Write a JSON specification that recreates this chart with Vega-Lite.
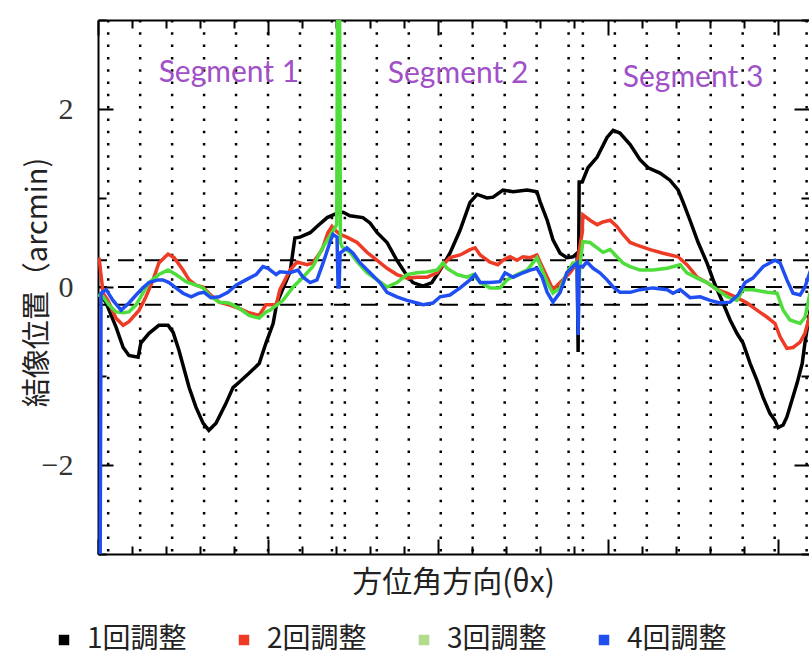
{
  "$schema": "https://vega.github.io/schema/vega-lite/v6.json",
  "width": 711,
  "height": 534,
  "autosize": {"type": "none"},
  "padding": {"left": 98, "top": 20, "right": 0, "bottom": 110},
  "background": "white",
  "datasets": {
    "vlines": [{"x":0.3},{"x":1.24},{"x":2.18},{"x":3.12},{"x":4.06},{"x":5.0},{"x":5.94},{"x":6.88},{"x":7.26},{"x":8.2},{"x":9.14},{"x":10.08},{"x":11.02},{"x":11.96},{"x":12.9},{"x":13.84},{"x":14.26},{"x":15.2},{"x":16.14},{"x":17.08},{"x":18.02},{"x":18.96},{"x":19.9},{"x":20.84}],
    "hlines": [{"y":0.3},{"y":0},{"y":-0.2}],
    "segments": [{"x":3.85,"y":2.41,"label":"Segment 1"},{"x":10.59,"y":2.39,"label":"Segment 2"},{"x":17.5,"y":2.35,"label":"Segment 3"}],
    "series": [
      {"s":"1回調整","x":0.06,"y":-0.07},{"s":"1回調整","x":0.24,"y":-0.18},{"s":"1回調整","x":0.53,"y":-0.45},{"s":"1回調整","x":0.74,"y":-0.68},{"s":"1回調整","x":0.91,"y":-0.77},{"s":"1回調整","x":1.18,"y":-0.79},{"s":"1回調整","x":1.26,"y":-0.63},{"s":"1回調整","x":1.5,"y":-0.52},{"s":"1回調整","x":1.79,"y":-0.43},{"s":"1回調整","x":2.06,"y":-0.43},{"s":"1回調整","x":2.21,"y":-0.51},{"s":"1回調整","x":2.38,"y":-0.71},{"s":"1回調整","x":2.68,"y":-1.13},{"s":"1回調整","x":2.88,"y":-1.35},{"s":"1回調整","x":3.09,"y":-1.53},{"s":"1回調整","x":3.26,"y":-1.61},{"s":"1回調整","x":3.47,"y":-1.53},{"s":"1回調整","x":3.76,"y":-1.31},{"s":"1回調整","x":3.97,"y":-1.13},{"s":"1回調整","x":4.15,"y":-1.07},{"s":"1回調整","x":4.44,"y":-0.97},{"s":"1回調整","x":4.74,"y":-0.86},{"s":"1回調整","x":4.94,"y":-0.63},{"s":"1回調整","x":5.15,"y":-0.41},{"s":"1回調整","x":5.26,"y":-0.18},{"s":"1回調整","x":5.65,"y":0.17},{"s":"1回調整","x":5.79,"y":0.55},{"s":"1回調整","x":5.94,"y":0.56},{"s":"1回調整","x":6.24,"y":0.61},{"s":"1回調整","x":6.44,"y":0.68},{"s":"1回調整","x":6.74,"y":0.78},{"s":"1回調整","x":7.03,"y":0.83},{"s":"1回調整","x":7.21,"y":0.84},{"s":"1回調整","x":7.41,"y":0.8},{"s":"1回調整","x":7.79,"y":0.78},{"s":"1回調整","x":8.0,"y":0.72},{"s":"1回調整","x":8.21,"y":0.61},{"s":"1回調整","x":8.5,"y":0.5},{"s":"1回調整","x":8.79,"y":0.3},{"s":"1回調整","x":9.03,"y":0.16},{"s":"1回調整","x":9.26,"y":0.05},{"s":"1回調整","x":9.56,"y":0.01},{"s":"1回調整","x":9.82,"y":0.05},{"s":"1回調整","x":10.06,"y":0.19},{"s":"1回調整","x":10.35,"y":0.38},{"s":"1回調整","x":10.65,"y":0.64},{"s":"1回調整","x":10.94,"y":0.95},{"s":"1回調整","x":11.15,"y":1.04},{"s":"1回調整","x":11.44,"y":1.0},{"s":"1回調整","x":11.62,"y":1.01},{"s":"1回調整","x":11.91,"y":1.09},{"s":"1回調整","x":12.21,"y":1.07},{"s":"1回調整","x":12.62,"y":1.09},{"s":"1回調整","x":12.91,"y":1.07},{"s":"1回調整","x":13.0,"y":0.96},{"s":"1回調整","x":13.21,"y":0.75},{"s":"1回調整","x":13.38,"y":0.53},{"s":"1回調整","x":13.59,"y":0.38},{"s":"1回調整","x":13.79,"y":0.33},{"s":"1回調整","x":13.97,"y":0.34},{"s":"1回調整","x":14.09,"y":0.38},{"s":"1回調整","x":14.12,"y":-0.73},{"s":"1回調整","x":14.15,"y":1.18},{"s":"1回調整","x":14.24,"y":1.18},{"s":"1回調整","x":14.41,"y":1.34},{"s":"1回調整","x":14.68,"y":1.46},{"s":"1回調整","x":14.97,"y":1.68},{"s":"1回調整","x":15.15,"y":1.76},{"s":"1回調整","x":15.35,"y":1.73},{"s":"1回調整","x":15.65,"y":1.6},{"s":"1回調整","x":15.94,"y":1.43},{"s":"1回調整","x":16.18,"y":1.34},{"s":"1回調整","x":16.53,"y":1.28},{"s":"1回調整","x":16.82,"y":1.2},{"s":"1回調整","x":17.06,"y":1.09},{"s":"1回調整","x":17.21,"y":0.95},{"s":"1回調整","x":17.41,"y":0.75},{"s":"1回調整","x":17.65,"y":0.5},{"s":"1回調整","x":17.91,"y":0.27},{"s":"1回調整","x":18.12,"y":0.05},{"s":"1回調整","x":18.38,"y":-0.18},{"s":"1回調整","x":18.59,"y":-0.37},{"s":"1回調整","x":18.79,"y":-0.52},{"s":"1回調整","x":18.97,"y":-0.63},{"s":"1回調整","x":19.18,"y":-0.86},{"s":"1回調整","x":19.38,"y":-1.05},{"s":"1回調整","x":19.56,"y":-1.24},{"s":"1回調整","x":19.76,"y":-1.42},{"s":"1回調整","x":19.91,"y":-1.5},{"s":"1回調整","x":20.0,"y":-1.58},{"s":"1回調整","x":20.15,"y":-1.55},{"s":"1回調整","x":20.26,"y":-1.46},{"s":"1回調整","x":20.41,"y":-1.27},{"s":"1回調整","x":20.56,"y":-1.08},{"s":"1回調整","x":20.71,"y":-0.86},{"s":"1回調整","x":20.79,"y":-0.63},{"s":"1回調整","x":20.88,"y":-0.41},{"s":"1回調整","x":20.95,"y":-0.25},
      {"s":"2回調整","x":0.03,"y":0.33},{"s":"2回調整","x":0.15,"y":-0.07},{"s":"2回調整","x":0.29,"y":-0.15},{"s":"2回調整","x":0.53,"y":-0.35},{"s":"2回調整","x":0.74,"y":-0.43},{"s":"2回調整","x":0.91,"y":-0.39},{"s":"2回調整","x":1.21,"y":-0.26},{"s":"2回調整","x":1.41,"y":-0.11},{"s":"2回調整","x":1.62,"y":0.08},{"s":"2回調整","x":1.79,"y":0.27},{"s":"2回調整","x":2.06,"y":0.37},{"s":"2回調整","x":2.24,"y":0.33},{"s":"2回調整","x":2.5,"y":0.19},{"s":"2回調整","x":2.68,"y":0.08},{"s":"2回調整","x":2.88,"y":0.02},{"s":"2回調整","x":3.09,"y":0},{"s":"2回調整","x":3.26,"y":-0.07},{"s":"2回調整","x":3.56,"y":-0.17},{"s":"2回調整","x":3.85,"y":-0.2},{"s":"2回調整","x":4.15,"y":-0.24},{"s":"2回調整","x":4.44,"y":-0.29},{"s":"2回調整","x":4.74,"y":-0.32},{"s":"2回調整","x":4.94,"y":-0.2},{"s":"2回調整","x":5.24,"y":-0.2},{"s":"2回調整","x":5.35,"y":-0.03},{"s":"2回調整","x":5.65,"y":0.19},{"s":"2回調整","x":5.85,"y":0.28},{"s":"2回調整","x":6.15,"y":0.25},{"s":"2回調整","x":6.32,"y":0.27},{"s":"2回調整","x":6.59,"y":0.42},{"s":"2回調整","x":6.76,"y":0.61},{"s":"2回調整","x":6.88,"y":0.68},{"s":"2回調整","x":6.97,"y":0.64},{"s":"2回調整","x":7.12,"y":0.59},{"s":"2回調整","x":7.32,"y":0.56},{"s":"2回調整","x":7.62,"y":0.5},{"s":"2回調整","x":7.91,"y":0.39},{"s":"2回調整","x":8.21,"y":0.3},{"s":"2回調整","x":8.5,"y":0.21},{"s":"2回調整","x":8.79,"y":0.14},{"s":"2回調整","x":9.09,"y":0.1},{"s":"2回調整","x":9.38,"y":0.11},{"s":"2回調整","x":9.68,"y":0.11},{"s":"2回調整","x":9.97,"y":0.16},{"s":"2回調整","x":10.15,"y":0.25},{"s":"2回調整","x":10.35,"y":0.33},{"s":"2回調整","x":10.65,"y":0.36},{"s":"2回調整","x":10.94,"y":0.42},{"s":"2回調整","x":11.09,"y":0.44},{"s":"2回調整","x":11.24,"y":0.36},{"s":"2回調整","x":11.53,"y":0.28},{"s":"2回調整","x":11.76,"y":0.25},{"s":"2回調整","x":11.91,"y":0.3},{"s":"2回調整","x":12.12,"y":0.34},{"s":"2回調整","x":12.32,"y":0.3},{"s":"2回調整","x":12.5,"y":0.34},{"s":"2回調整","x":12.71,"y":0.33},{"s":"2回調整","x":12.91,"y":0.36},{"s":"2回調整","x":13.0,"y":0.28},{"s":"2回調整","x":13.21,"y":0.11},{"s":"2回調整","x":13.38,"y":-0.03},{"s":"2回調整","x":13.59,"y":0.05},{"s":"2回調整","x":13.88,"y":0.16},{"s":"2回調整","x":14.09,"y":0.27},{"s":"2回調整","x":14.24,"y":0.61},{"s":"2回調整","x":14.26,"y":0.81},{"s":"2回調整","x":14.47,"y":0.75},{"s":"2回調整","x":14.68,"y":0.7},{"s":"2回調整","x":14.85,"y":0.73},{"s":"2回調整","x":15.06,"y":0.75},{"s":"2回調整","x":15.26,"y":0.68},{"s":"2回調整","x":15.44,"y":0.59},{"s":"2回調整","x":15.65,"y":0.5},{"s":"2回調整","x":15.85,"y":0.47},{"s":"2回調整","x":16.24,"y":0.42},{"s":"2回調整","x":16.62,"y":0.38},{"s":"2回調整","x":17.06,"y":0.34},{"s":"2回調整","x":17.32,"y":0.25},{"s":"2回調整","x":17.62,"y":0.11},{"s":"2回調整","x":17.91,"y":0.05},{"s":"2回調整","x":18.21,"y":-0.03},{"s":"2回調整","x":18.5,"y":-0.07},{"s":"2回調整","x":18.79,"y":-0.12},{"s":"2回調整","x":19.09,"y":-0.18},{"s":"2回調整","x":19.38,"y":-0.26},{"s":"2回調整","x":19.68,"y":-0.34},{"s":"2回調整","x":19.91,"y":-0.41},{"s":"2回調整","x":20.06,"y":-0.56},{"s":"2回調整","x":20.26,"y":-0.69},{"s":"2回調整","x":20.44,"y":-0.68},{"s":"2回調整","x":20.65,"y":-0.62},{"s":"2回調整","x":20.79,"y":-0.52},{"s":"2回調整","x":20.95,"y":-0.3},
      {"s":"3回調整","x":0.0,"y":-0.09},{"s":"3回調整","x":0.15,"y":-0.11},{"s":"3回調整","x":0.32,"y":-0.2},{"s":"3回調整","x":0.53,"y":-0.28},{"s":"3回調整","x":0.74,"y":-0.29},{"s":"3回調整","x":0.91,"y":-0.28},{"s":"3回調整","x":1.12,"y":-0.2},{"s":"3回調整","x":1.32,"y":-0.07},{"s":"3回調整","x":1.5,"y":0.05},{"s":"3回調整","x":1.79,"y":0.14},{"s":"3回調整","x":2.06,"y":0.19},{"s":"3回調整","x":2.29,"y":0.14},{"s":"3回調整","x":2.59,"y":0.06},{"s":"3回調整","x":2.88,"y":0.02},{"s":"3回調整","x":3.09,"y":-0.01},{"s":"3回調整","x":3.32,"y":-0.11},{"s":"3回調整","x":3.56,"y":-0.17},{"s":"3回調整","x":3.85,"y":-0.18},{"s":"3回調整","x":4.15,"y":-0.24},{"s":"3回調整","x":4.44,"y":-0.32},{"s":"3回調整","x":4.74,"y":-0.35},{"s":"3回調整","x":4.94,"y":-0.28},{"s":"3回調整","x":5.06,"y":-0.26},{"s":"3回調整","x":5.44,"y":-0.15},{"s":"3回調整","x":5.74,"y":0},{"s":"3回調整","x":6.03,"y":0.11},{"s":"3回調整","x":6.32,"y":0.23},{"s":"3回調整","x":6.62,"y":0.45},{"s":"3回調整","x":6.88,"y":0.61},{"s":"3回調整","x":7.02,"y":0.7},{"s":"3回調整","x":7.05,"y":3.6},{"s":"3回調整","x":7.1,"y":3.6},{"s":"3回調整","x":7.13,"y":0.5},{"s":"3回調整","x":7.18,"y":0.45},{"s":"3回調整","x":7.41,"y":0.39},{"s":"3回調整","x":7.65,"y":0.27},{"s":"3回調整","x":7.91,"y":0.16},{"s":"3回調整","x":8.21,"y":0.08},{"s":"3回調整","x":8.5,"y":0},{"s":"3回調整","x":8.79,"y":0.05},{"s":"3回調整","x":9.09,"y":0.14},{"s":"3回調整","x":9.38,"y":0.16},{"s":"3回調整","x":9.68,"y":0.17},{"s":"3回調整","x":9.97,"y":0.19},{"s":"3回調整","x":10.15,"y":0.27},{"s":"3回調整","x":10.26,"y":0.21},{"s":"3回調整","x":10.56,"y":0.14},{"s":"3回調整","x":10.85,"y":0.11},{"s":"3回調整","x":11.03,"y":0.14},{"s":"3回調整","x":11.24,"y":0.05},{"s":"3回調整","x":11.53,"y":-0.01},{"s":"3回調整","x":11.82,"y":-0.01},{"s":"3回調整","x":12.03,"y":0.08},{"s":"3回調整","x":12.32,"y":0.14},{"s":"3回調整","x":12.62,"y":0.19},{"s":"3回調整","x":12.79,"y":0.27},{"s":"3回調整","x":12.91,"y":0.33},{"s":"3回調整","x":13.06,"y":0.19},{"s":"3回調整","x":13.21,"y":0.05},{"s":"3回調整","x":13.38,"y":-0.07},{"s":"3回調整","x":13.59,"y":-0.01},{"s":"3回調整","x":13.79,"y":0.16},{"s":"3回調整","x":13.97,"y":0.27},{"s":"3回調整","x":14.09,"y":0.27},{"s":"3回調整","x":14.12,"y":-0.07},{"s":"3回調整","x":14.18,"y":0.27},{"s":"3回調整","x":14.26,"y":0.51},{"s":"3回調整","x":14.47,"y":0.5},{"s":"3回調整","x":14.68,"y":0.44},{"s":"3回調整","x":14.85,"y":0.39},{"s":"3回調整","x":15.06,"y":0.42},{"s":"3回調整","x":15.26,"y":0.34},{"s":"3回調整","x":15.44,"y":0.27},{"s":"3回調整","x":15.65,"y":0.23},{"s":"3回調整","x":15.94,"y":0.19},{"s":"3回調整","x":16.32,"y":0.19},{"s":"3回調整","x":16.74,"y":0.21},{"s":"3回調整","x":17.12,"y":0.25},{"s":"3回調整","x":17.32,"y":0.16},{"s":"3回調整","x":17.62,"y":0.1},{"s":"3回調整","x":17.91,"y":0.05},{"s":"3回調整","x":18.21,"y":-0.03},{"s":"3回調整","x":18.5,"y":-0.11},{"s":"3回調整","x":18.79,"y":-0.15},{"s":"3回調整","x":18.97,"y":-0.03},{"s":"3回調整","x":19.26,"y":-0.03},{"s":"3回調整","x":19.68,"y":-0.06},{"s":"3回調整","x":19.97,"y":-0.07},{"s":"3回調整","x":20.15,"y":-0.26},{"s":"3回調整","x":20.35,"y":-0.37},{"s":"3回調整","x":20.65,"y":-0.41},{"s":"3回調整","x":20.79,"y":-0.34},{"s":"3回調整","x":20.95,"y":-0.05},
      {"s":"4回調整","x":0.06,"y":-3.5},{"s":"4回調整","x":0.09,"y":-0.07},{"s":"4回調整","x":0.24,"y":-0.03},{"s":"4回調整","x":0.44,"y":-0.15},{"s":"4回調整","x":0.68,"y":-0.26},{"s":"4回調整","x":0.91,"y":-0.18},{"s":"4回調整","x":1.12,"y":-0.09},{"s":"4回調整","x":1.32,"y":-0.01},{"s":"4回調整","x":1.5,"y":0.05},{"s":"4回調整","x":1.76,"y":0.08},{"s":"4回調整","x":1.91,"y":0.08},{"s":"4回調整","x":2.09,"y":0.05},{"s":"4回調整","x":2.29,"y":-0.01},{"s":"4回調整","x":2.5,"y":-0.07},{"s":"4回調整","x":2.74,"y":-0.11},{"s":"4回調整","x":2.97,"y":-0.07},{"s":"4回調整","x":3.12,"y":-0.06},{"s":"4回調整","x":3.32,"y":-0.12},{"s":"4回調整","x":3.56,"y":-0.11},{"s":"4回調整","x":3.82,"y":-0.06},{"s":"4回調整","x":4.06,"y":0.02},{"s":"4回調整","x":4.35,"y":0.08},{"s":"4回調整","x":4.65,"y":0.14},{"s":"4回調整","x":4.85,"y":0.23},{"s":"4回調整","x":5.0,"y":0.21},{"s":"4回調整","x":5.24,"y":0.14},{"s":"4回調整","x":5.35,"y":0.17},{"s":"4回調整","x":5.65,"y":0.16},{"s":"4回調整","x":5.88,"y":0.19},{"s":"4回調整","x":6.03,"y":0.11},{"s":"4回調整","x":6.24,"y":0.05},{"s":"4回調整","x":6.44,"y":0.08},{"s":"4回調整","x":6.62,"y":0.27},{"s":"4回調整","x":6.82,"y":0.5},{"s":"4回調整","x":6.91,"y":0.59},{"s":"4回調整","x":7.03,"y":0.56},{"s":"4回調整","x":7.06,"y":0.0},{"s":"4回調整","x":7.09,"y":0.0},{"s":"4回調整","x":7.12,"y":0.38},{"s":"4回調整","x":7.32,"y":0.44},{"s":"4回調整","x":7.5,"y":0.38},{"s":"4回調整","x":7.71,"y":0.27},{"s":"4回調整","x":8.0,"y":0.16},{"s":"4回調整","x":8.29,"y":0.05},{"s":"4回調整","x":8.5,"y":-0.06},{"s":"4回調整","x":8.79,"y":-0.11},{"s":"4回調整","x":9.09,"y":-0.15},{"s":"4回調整","x":9.38,"y":-0.18},{"s":"4回調整","x":9.56,"y":-0.2},{"s":"4回調整","x":9.85,"y":-0.18},{"s":"4回調整","x":10.06,"y":-0.11},{"s":"4回調整","x":10.35,"y":-0.09},{"s":"4回調整","x":10.65,"y":-0.01},{"s":"4回調整","x":10.94,"y":0.08},{"s":"4回調整","x":11.09,"y":0.14},{"s":"4回調整","x":11.24,"y":0.05},{"s":"4回調整","x":11.53,"y":0.05},{"s":"4回調整","x":11.82,"y":0.06},{"s":"4回調整","x":11.97,"y":0.16},{"s":"4回調整","x":12.21,"y":0.11},{"s":"4回調整","x":12.5,"y":0.16},{"s":"4回調整","x":12.71,"y":0.19},{"s":"4回調整","x":12.91,"y":0.21},{"s":"4回調整","x":13.06,"y":0.11},{"s":"4回調整","x":13.21,"y":-0.06},{"s":"4回調整","x":13.38,"y":-0.17},{"s":"4回調整","x":13.59,"y":-0.06},{"s":"4回調整","x":13.79,"y":0.16},{"s":"4回調整","x":13.97,"y":0.23},{"s":"4回調整","x":14.09,"y":0.27},{"s":"4回調整","x":14.12,"y":-0.54},{"s":"4回調整","x":14.15,"y":0.23},{"s":"4回調整","x":14.26,"y":0.23},{"s":"4回調整","x":14.38,"y":0.28},{"s":"4回調整","x":14.56,"y":0.21},{"s":"4回調整","x":14.76,"y":0.16},{"s":"4回調整","x":14.97,"y":0.08},{"s":"4回調整","x":15.15,"y":0},{"s":"4回調整","x":15.35,"y":-0.06},{"s":"4回調整","x":15.65,"y":-0.06},{"s":"4回調整","x":15.94,"y":-0.03},{"s":"4回調整","x":16.32,"y":-0.01},{"s":"4回調整","x":16.74,"y":-0.03},{"s":"4回調整","x":16.91,"y":-0.07},{"s":"4回調整","x":17.12,"y":-0.03},{"s":"4回調整","x":17.41,"y":-0.12},{"s":"4回調整","x":17.71,"y":-0.11},{"s":"4回調整","x":18.0,"y":-0.15},{"s":"4回調整","x":18.29,"y":-0.18},{"s":"4回調整","x":18.59,"y":-0.17},{"s":"4回調整","x":18.82,"y":-0.09},{"s":"4回調整","x":19.03,"y":0.05},{"s":"4回調整","x":19.26,"y":0.1},{"s":"4回調整","x":19.56,"y":0.23},{"s":"4回調整","x":19.91,"y":0.3},{"s":"4回調整","x":20.06,"y":0.27},{"s":"4回調整","x":20.26,"y":0.08},{"s":"4回調整","x":20.44,"y":-0.07},{"s":"4回調整","x":20.65,"y":-0.09},{"s":"4回調整","x":20.79,"y":0},{"s":"4回調整","x":20.95,"y":0.18}
    ]
  },
  "resolve": {"axis": {"x": "independent", "y": "independent"}},
  "layer": [
    {
      "data": {"name": "vlines"},
      "mark": {"type": "rule", "color": "black", "strokeWidth": 2.5, "strokeDash": [2.5, 9.8]},
      "encoding": {
        "x": {
          "field": "x", "type": "quantitative",
          "scale": {"domain": [0, 20.91], "nice": false, "zero": false},
          "axis": {
            "orient": "bottom",
            "values": [0,1,2,3,4,5,6,7,8,9,10,11,12,13,14,15,16,17,18,19,20],
            "labels": false,
            "domain": true, "domainColor": "black", "domainWidth": 2,
            "ticks": true, "tickColor": "black", "tickWidth": 2,
            "tickSize": {"condition": {"test": "datum.value % 5 === 0", "value": -15}, "value": -8},
            "title": "方位角方向(θx)",
            "titleFont": "Noto Sans CJK JP", "titleFontSize": 30, "titleFontWeight": "normal", "titleColor": "#222",
            "titleX": 355, "titleY": 13, "titleBaseline": "top"
          }
        }
      }
    },
    {
      "data": {"name": "hlines"},
      "mark": {"type": "rule", "color": "black", "strokeWidth": 2, "strokeDash": [16, 11]},
      "encoding": {
        "y": {
          "field": "y", "type": "quantitative",
          "scale": {"domain": [-3, 3], "nice": false, "zero": false},
          "axis": {
            "orient": "left",
            "values": [-3,-2,-1,0,1,2,3],
            "labelExpr": "datum.value % 2 === 0 ? datum.label : ''",
            "labelFont": "Liberation Serif", "labelFontSize": 30, "labelColor": "#333",
            "labelPadding": 40,
            "domain": true, "domainColor": "black", "domainWidth": 2,
            "ticks": true, "tickColor": "black", "tickWidth": 2,
            "tickSize": {"condition": {"test": "datum.value % 2 === 0", "value": -15}, "value": -8},
            "title": "結像位置（arcmin)",
            "titleFont": "Noto Sans CJK JP", "titleFontSize": 29, "titleFontWeight": "normal", "titleColor": "#222",
            "titleX": -46, "titleY": 262
          }
        }
      }
    },
    {
      "data": {"name": "series"},
      "mark": {"type": "line", "strokeWidth": 3.5, "clip": true, "interpolate": "linear"},
      "encoding": {
        "x": {
          "field": "x", "type": "quantitative",
          "scale": {"domain": [0, 20.91], "nice": false, "zero": false},
          "axis": {
            "orient": "top", "values": [0,1,2,3,4,5,6,7,8,9,10,11,12,13,14,15,16,17,18,19,20],
            "labels": false, "title": null,
            "domain": true, "domainColor": "black", "domainWidth": 2,
            "tickColor": "black", "tickWidth": 2,
            "tickSize": {"condition": {"test": "datum.value % 5 === 0", "value": -15}, "value": -8}
          }
        },
        "y": {
          "field": "y", "type": "quantitative",
          "scale": {"domain": [-3, 3], "nice": false, "zero": false},
          "axis": {
            "orient": "right", "values": [-3,-2,-1,0,1,2,3],
            "labels": false, "title": null, "domain": false,
            "tickColor": "black", "tickWidth": 2,
            "tickSize": {"condition": {"test": "datum.value % 2 === 0", "value": -15}, "value": -8}
          }
        },
        "color": {
          "field": "s", "type": "nominal",
          "scale": {"domain": ["1回調整", "2回調整", "3回調整", "4回調整"], "range": ["#000000", "#ee3b25", "#4fdd3c", "#1f4ff2"]},
          "legend": {
            "orient": "none", "legendX": -48, "legendY": 606,
            "direction": "horizontal", "title": null,
            "symbolType": "square", "symbolSize": 110, "symbolStrokeWidth": 0,
            "labelFont": "Noto Sans CJK JP", "labelFontSize": 28, "labelColor": "#222",
            "labelOffset": 9, "columnPadding": 43, "padding": 0,
            "encode": {"symbols": {"update": {"fill": [{"test": "datum.value === '3回調整'", "value": "#b2dc8e"}, {"scale": "color", "field": "value"}], "strokeWidth": {"value": 0}, "opacity": {"value": 1}}}}
          }
        }
      }
    },
    {
      "data": {"name": "segments"},
      "mark": {"type": "text", "font": "Lato", "fontSize": 30, "color": "#a050c8", "align": "center", "baseline": "middle"},
      "encoding": {
        "x": {"field": "x", "type": "quantitative", "scale": {"domain": [0, 20.91], "nice": false, "zero": false}, "axis": null},
        "y": {"field": "y", "type": "quantitative", "scale": {"domain": [-3, 3], "nice": false, "zero": false}, "axis": null},
        "text": {"field": "label"}
      }
    }
  ],
  "config": {
    "view": {"stroke": null},
    "axis": {"grid": false}
  }
}
